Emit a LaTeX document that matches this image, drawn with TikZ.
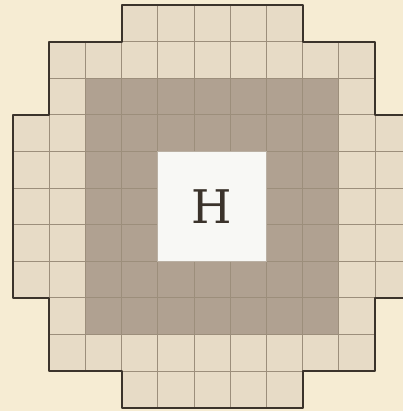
\documentclass[tikz,border=0pt]{standalone}
\usepackage{fontspec}
\newfontfamily\signfont{DejaVu Serif}
\definecolor{MapBack}{HTML}{F6ECD3}
\definecolor{MapLight}{HTML}{E7DBC6}
\definecolor{MapDark}{HTML}{B0A191}
\definecolor{MapWhite}{HTML}{F8F8F5}
\definecolor{MapGrid}{HTML}{9C8E7B}
\definecolor{MapInk}{HTML}{3B332B}

\begin{document}
\begin{tikzpicture}[x=0.905cm,y=-0.915cm,line width=0.7pt]
  \fill[MapBack] (-0.36,-0.14) rectangle (10.77,11.09);
  \useasboundingbox (-0.36,-0.14) rectangle (10.77,11.09);
  \begin{scope}
    \clip (3,0) -| (8,1) -| (10,3) -| (11,8) -| (10,10) -| (8,11)
      -| (3,10) -| (1,8) -| (0,3) -| (1,1) -| (3,0) -- cycle;
    \fill[MapLight] (0,0) rectangle (11,11);
    \fill[MapDark] (2,2) rectangle (9,9);
    \foreach \k in {1,...,10} {
      \draw[MapGrid] (\k,0) -- (\k,11);
      \draw[MapGrid] (0,\k) -- (11,\k);
    }
  \end{scope}
  \fill[MapWhite] (4,4) rectangle (7,7);
  \draw[MapGrid!70] (4,4) rectangle (7,7);
  \draw[MapInk,line width=1.4pt,line join=round]
    (3,0) -| (8,1) -| (10,3) -| (11,8) -| (10,10) -| (8,11)
    -| (3,10) -| (1,8) -| (0,3) -| (1,1) -| (3,0) -- cycle;
  \node[font=\signfont\fontsize{33}{33}\selectfont,text=MapInk] (home) at (5.5,5.5) {H};
\end{tikzpicture}
\end{document}
